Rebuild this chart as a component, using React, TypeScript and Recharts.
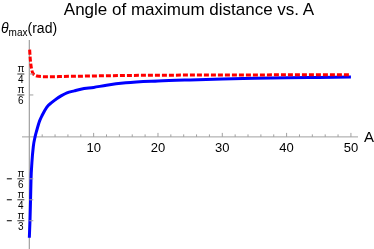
import { LineChart, Line, XAxis, YAxis, ReferenceLine, ReferenceDot } from "recharts";

// values (A, theta in rad)
const blueA = [0, 0.1, 0.19, 0.26, 0.4, 0.62, 0.89, 1.15, 1.6, 2, 2.7, 3.5, 4.3, 5, 5.85, 7, 8, 10, 12, 15, 20, 25, 30, 35, 40, 45, 50];
const blueTheta = [-1.26, -1.05, -0.785, -0.54, -0.32, -0.12, 0, 0.08, 0.2, 0.27, 0.37, 0.43, 0.48, 0.515, 0.55, 0.575, 0.595, 0.618, 0.645, 0.675, 0.698, 0.712, 0.723, 0.731, 0.738, 0.743, 0.748];

const redA = [0.05, 0.12, 0.25, 0.4, 0.6, 1, 1.5, 2.2, 3, 4, 5, 7, 10, 15, 20, 30, 40, 50];
const redTheta = [1.09, 1.0, 0.9, 0.83, 0.79, 0.765, 0.756, 0.752, 0.751, 0.752, 0.754, 0.757, 0.761, 0.767, 0.77, 0.773, 0.775, 0.777];

const xMajorTicks = [10, 20, 30, 40, 50];
const xMinorTicks = [2, 4, 6, 8, 12, 14, 16, 18, 22, 24, 26, 28, 32, 34, 36, 38, 42, 44, 46, 48];

// y ticks are fractions of pi: sign, denominator
const yTickSigns = [1, 1, -1, -1, -1];
const yTickDens = [4, 6, 6, 4, 3];

const blueData = blueA.map((a, i) => ({ a, theta: blueTheta[i] }));
const redData = redA.map((a, i) => ({ a, theta: redTheta[i] }));

const FONT = "'Liberation Sans', Arial, sans-serif";
const AXIS = "#a0a0a0";

const XTick = ({ cx, cy, label, major }: any) => (
  <g>
    <line x1={cx} x2={cx} y1={cy} y2={cy - (major ? 4 : 2.5)} stroke={AXIS} strokeWidth={1} />
    {major && (
      <text x={cx} y={cy + 15} textAnchor="middle" fontSize={13} fontFamily={FONT} fill="#000">
        {label}
      </text>
    )}
  </g>
);

const YTick = ({ cx, cy, sign, den }: any) => (
  <g fontFamily={FONT} fill="#000">
    <line x1={cx} x2={cx + 4} y1={cy} y2={cy} stroke={AXIS} strokeWidth={1} />
    <text x={cx - 8.5} y={cy - 2} textAnchor="middle" fontSize={10}>π</text>
    <line x1={cx - 12} x2={cx - 5} y1={cy} y2={cy} stroke="#000" strokeWidth={0.8} />
    <text x={cx - 8.5} y={cy + 9} textAnchor="middle" fontSize={10}>{den}</text>
    {sign < 0 && <line x1={cx - 22.5} x2={cx - 17.5} y1={cy} y2={cy} stroke="#000" strokeWidth={1} />}
  </g>
);

export default function App() {
  return (
    <div style={{ position: "fixed", left: 0, top: 0, width: 374, height: 249, background: "#fff", fontFamily: FONT }}>
      <div style={{ position: "absolute", left: 0, top: -1, width: 378, textAlign: "center", fontSize: 17, lineHeight: "22px" }}>
        Angle of maximum distance vs. A
      </div>
      <div style={{ position: "absolute", left: 1, top: 20, fontSize: 14, lineHeight: "17px", whiteSpace: "nowrap" }}>
        <i>θ</i>
        <span style={{ fontSize: 10, position: "relative", top: 3 }}>max</span>
        (rad)
      </div>
      <div style={{ position: "absolute", left: 364, top: 128, fontSize: 15, lineHeight: "17px" }}>A</div>
      <LineChart width={374} height={249} margin={{ top: 40, right: 16, bottom: 0, left: 22 }}>
        <XAxis type="number" dataKey="a" domain={[-1.14, 51.1]} hide allowDataOverflow />
        <YAxis type="number" dataKey="theta" domain={[-1.4, 1.21]} hide allowDataOverflow />
        <ReferenceLine y={0} stroke={AXIS} strokeWidth={1} />
        <ReferenceLine x={0} stroke={AXIS} strokeWidth={1.2} />
        {xMinorTicks.map((t) => (
          <ReferenceDot key={"m" + t} x={t} y={0} r={1} shape={(p: any) => <XTick cx={p.cx} cy={p.cy} />} />
        ))}
        {xMajorTicks.map((t) => (
          <ReferenceDot key={"M" + t} x={t} y={0} r={1} shape={(p: any) => <XTick cx={p.cx} cy={p.cy} label={t} major />} />
        ))}
        {yTickDens.map((d, i) => (
          <ReferenceDot
            key={"y" + i}
            x={0}
            y={(yTickSigns[i] * Math.PI) / d}
            r={1}
            shape={(p: any) => <YTick cx={p.cx} cy={p.cy} sign={yTickSigns[i]} den={d} />}
          />
        ))}
        <Line
          data={blueData}
          dataKey="theta"
          type="monotone"
          stroke="#0000ff"
          strokeWidth={3}
          dot={false}
          isAnimationActive={false}
        />
        <Line
          data={redData}
          dataKey="theta"
          type="monotone"
          stroke="#ff0000"
          strokeWidth={3}
          strokeDasharray="5 2"
          dot={false}
          isAnimationActive={false}
        />
      </LineChart>
    </div>
  );
}
